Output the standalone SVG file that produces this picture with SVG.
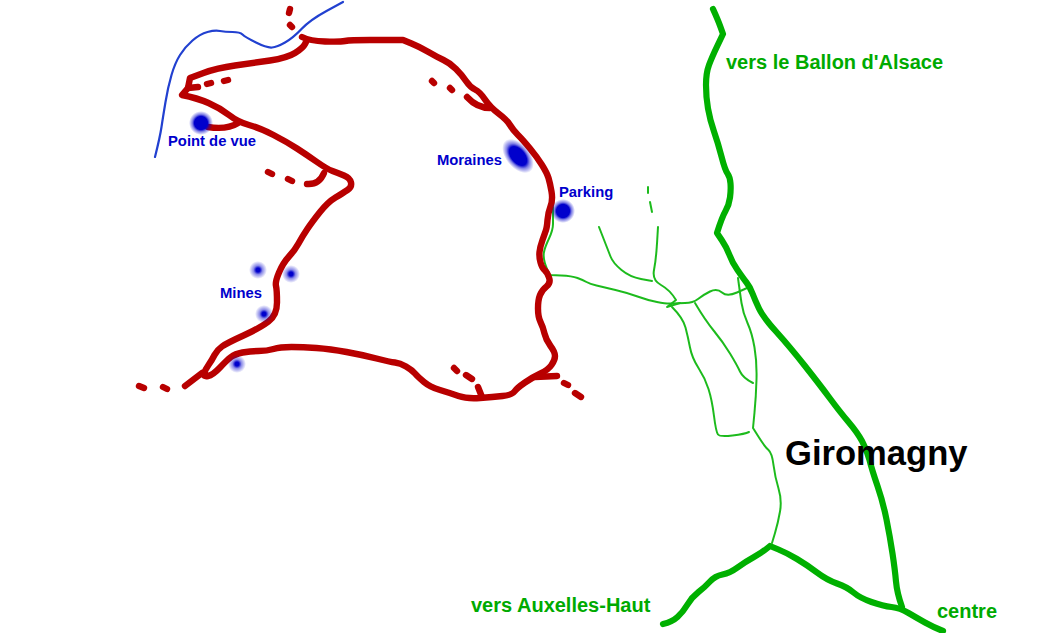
<svg xmlns="http://www.w3.org/2000/svg" width="1039" height="633" viewBox="0 0 1039 633">
<style>
text{font-family:"Liberation Sans",Arial,sans-serif;font-weight:bold}
.l{fill:#0000cc;font-size:14.8px}
.g{fill:#00aa00;font-size:20px}
path{fill:none;stroke-linecap:round;stroke-linejoin:round}
.red path{stroke:#b80000;stroke-width:6.4}
.big path{stroke:#00b000;stroke-width:6.2}
.red,.big,.thin,#river{filter:url(#soft)}
.thin path{stroke:#1fbb1f;stroke-width:2}
</style>
<defs>
<filter id="soft" x="0" y="0" width="1039" height="633" filterUnits="userSpaceOnUse"><feGaussianBlur stdDeviation="0.45"/></filter>
<radialGradient id="big"><stop offset="0.55" stop-color="#0000cc"/><stop offset="0.72" stop-color="#0000cc" stop-opacity="0.5"/><stop offset="1" stop-color="#0000cc" stop-opacity="0"/></radialGradient>
<radialGradient id="small"><stop offset="0.22" stop-color="#0000cc"/><stop offset="0.5" stop-color="#0000cc" stop-opacity="0.45"/><stop offset="1" stop-color="#0000cc" stop-opacity="0"/></radialGradient>
</defs>
<rect width="1039" height="633" fill="#fff"/>
<g id="river"><path d="M343,2 L326.5,11 Q310,20 301.5,29 Q293,38 285,42.5 Q277,47 272,47.5 Q267,48 256,42.5 Q245,37 242.5,34.5 Q240,32 232.5,32 Q225,32 220,31 Q215,30 207.5,32 Q200,34 192.5,40.5 Q185,47 180,55 Q175,63 171.5,75 Q168,87 165.5,102 Q163,117 161.5,127 Q160,137 155,157" style="stroke:#2040d0;stroke-width:2.2"/></g>
<g id="thin-roads" class="thin">
<path d="M553,207 L553,224 Q553,230 549,238.5 Q545,247 544,252 Q543,257 545,263.5 Q547,270 550,275 L561,275.5 Q572,276 577.5,278 Q583,280 586.5,282 Q590,284 596.5,285.5 Q603,287 615.5,290 Q628,293 637.5,296.5 Q647,300 657,302 Q667,304 672,303.5 Q677,303 685,303 Q693,303 698,299 Q703,295 710,291.5 Q717,288 722,292.5 Q727,297 737,292.5 L747,288"/>
<path d="M738,278 Q740,293 741.5,303 Q743,313 747.5,323 Q752,333 754.5,347.5 Q757,362 756.5,379.5 Q756,397 754.5,412.5 L753,428 L759,437.5 Q765,447 768.5,450 Q772,453 773.5,465 Q775,477 778.5,488.5 Q782,500 780,511.5 Q778,523 775,533 L772,543"/>
<path d="M658,227 L657,243.5 Q656,260 654,270 Q652,280 661,285 Q670,290 676,300 L667,307 L680,303"/>
<path d="M599,227 Q608,250 610.5,256.5 Q613,263 621.5,270 Q630,277 641,279 L652,281"/>
<path d="M648,187 L648,193"/><path d="M650,202 L652,212"/>
<path d="M672,307 Q683,318 685.5,327.5 Q688,337 690,347.5 Q692,358 698.5,368 Q705,378 708.5,389 Q712,400 714,416 Q716,432 718,434.5 Q720,437 732.5,435.5 Q745,434 749,432"/>
<path d="M695,303 Q705,320 714,331 Q723,342 730,353.5 Q737,365 740,371.5 Q743,378 753,383"/>
</g>
<g id="main-roads" class="big">
<path d="M713,9 Q718,20 720.5,27 L723,34 L717.5,45.5 Q712,57 709,65 Q706,73 706,85 Q706,97 708,108.5 Q710,120 714,131.5 Q718,143 721.5,156.5 Q725,170 727.5,173.5 Q730,177 730.5,183.5 Q731,190 730,197.5 Q729,205 725.5,211 Q722,217 717,233 L722,240.5 Q727,248 729.5,255 Q732,262 737.5,270 Q743,278 746.5,282.5 Q750,287 752.5,293.5 Q755,300 759,308.5 Q763,317 776.5,332 Q790,347 805,366 Q820,385 830,398.5 Q840,412 848.5,422 Q857,432 862,441 Q867,450 869.5,460 Q872,470 877.5,486 Q883,502 886.5,519.5 Q890,537 892.5,553.5 Q895,570 896,581.5 Q897,593 902,607"/>
<path d="M663,624 Q672,622 677.5,617 Q683,612 687.5,604.5 Q692,597 698.5,592 Q705,587 710,581.5 Q715,576 722.5,574.5 Q730,573 737.5,567.5 Q745,562 754,557 Q763,552 770,546 L778.5,549.5 Q787,553 797,559 Q807,565 817,572.5 Q827,580 837,583.5 Q847,587 853.5,592.5 Q860,598 871.5,602 Q883,606 891.5,607 Q900,608 908.5,613 Q917,618 925,622.5 Q933,627 943,631"/>
</g>
<g id="trail" class="red">
<path d="M302,37 Q310,41 325,41.5 Q340,42 345,41 Q350,40 370,40 L403,40 Q403,40 411.5,43.5 Q420,47 428.5,52 Q437,57 443.5,60 Q450,63 456,69 Q462,75 466,81 Q470,87 475,89.5 Q480,92 485,99.5 Q490,107 498.5,113.5 Q507,120 510,125 Q513,130 518,135 Q523,140 530,148.5 Q537,157 542,165 Q547,173 548.5,178 Q550,183 551.5,191.5 Q553,200 550.5,206.5 Q548,213 547.5,220 Q547,227 546,230 Q545,233 542.5,240 Q540,247 539.5,252 Q539,257 540.5,262.5 Q542,268 544.5,270 Q547,272 549,277.5 Q551,283 546.5,286.5 Q542,290 540,295 Q538,300 538,308.5 Q538,317 540.5,322 Q543,327 544.5,333.5 Q546,340 550.5,346 Q555,352 555,356 Q555,360 551.5,365 Q548,370 540.5,373.5 Q533,377 525,382.5 Q517,388 514.5,391.5 Q512,395 502.5,396 Q493,397 480,398 Q467,399 458.5,396 Q450,393 440,390 Q430,387 424,382 Q418,377 415,373.5 Q412,370 406,366.5 Q400,363 395,362.5 Q390,362 376.5,358.5 Q363,355 346.5,352 Q330,349 316.5,348 Q303,347 291.5,347 Q280,347 273.5,349 Q267,351 258.5,351 Q250,351 242.5,352.5 Q235,354 231,357 Q227,360 220,367.5 Q213,375 208,376 Q203,377 204,373.5 Q205,370 208.5,365 Q212,360 214.5,355 Q217,350 222,346.5 Q227,343 243.5,335.5 Q260,328 268.5,321.5 Q277,315 277,302.5 Q277,290 276,286 Q275,282 279,272.5 Q283,263 289,256.5 Q295,250 298.5,243.5 Q302,237 307,229.5 Q312,222 320,212 Q328,202 335.5,197.5 Q343,193 347.5,190 Q352,187 351,182.5 Q350,178 344,175.5 Q338,173 332.5,171 Q327,169 317,162 Q307,155 297,148.5 Q287,142 273.5,135 Q260,128 249,125 Q238,122 229,115 Q220,108 208.5,103 Q197,98 182,95 L188,88 L190,78 L203.5,73 Q217,68 235,65.5 Q253,63 270,60.5 Q287,58 295,53 Q303,48 305,44 L307,40"/>
<path d="M208,127 Q227,130 238,123"/>
<path d="M188,88 L198,87"/><path d="M207,84 L211,83"/><path d="M224,81 L228,80"/>
<path d="M290,9 L289,13"/><path d="M290,25 L292,27"/>
<path d="M268,172 L272,174"/><path d="M288,179 L292,181"/><path d="M307,184 Q319,185 324,173"/>
<path d="M185,386 L202,373"/><path d="M139,386 L144,388"/><path d="M163,387 L167,389"/>
<path d="M432,81 L434,83"/><path d="M450,88 L452,90"/><path d="M467,97 Q477,108 490,108"/>
<path d="M454,368 L457,371"/><path d="M466,375 L472,379"/><path d="M478,387 L482,397"/>
<path d="M535,377 L557,376"/><path d="M564,383 L568,385"/><path d="M575,393 L581,397"/>
</g>
<g id="sites">
<circle cx="201" cy="123" r="12" fill="url(#big)"/>
<circle cx="563" cy="211" r="12" fill="url(#big)"/>
<ellipse cx="518" cy="156" rx="20" ry="12" transform="rotate(50 518 156)" fill="url(#big)"/>
<circle cx="258" cy="270" r="9" fill="url(#small)"/><circle cx="291" cy="274" r="9" fill="url(#small)"/><circle cx="264" cy="314" r="9" fill="url(#small)"/><circle cx="237" cy="364" r="9" fill="url(#small)"/>
</g>
<g id="labels">
<text class="l" x="168" y="146">Point de vue</text>
<text class="l" x="437" y="165">Moraines</text>
<text class="l" x="559" y="197">Parking</text>
<text class="l" x="220" y="298">Mines</text>
<text class="g" x="726" y="69">vers le Ballon d'Alsace</text>
<text class="g" x="471" y="612">vers Auxelles-Haut</text>
<text class="g" x="937" y="618">centre</text>
<text x="785" y="465" style="font-size:34.6px;fill:#000">Giromagny</text>
</g>
</svg>
